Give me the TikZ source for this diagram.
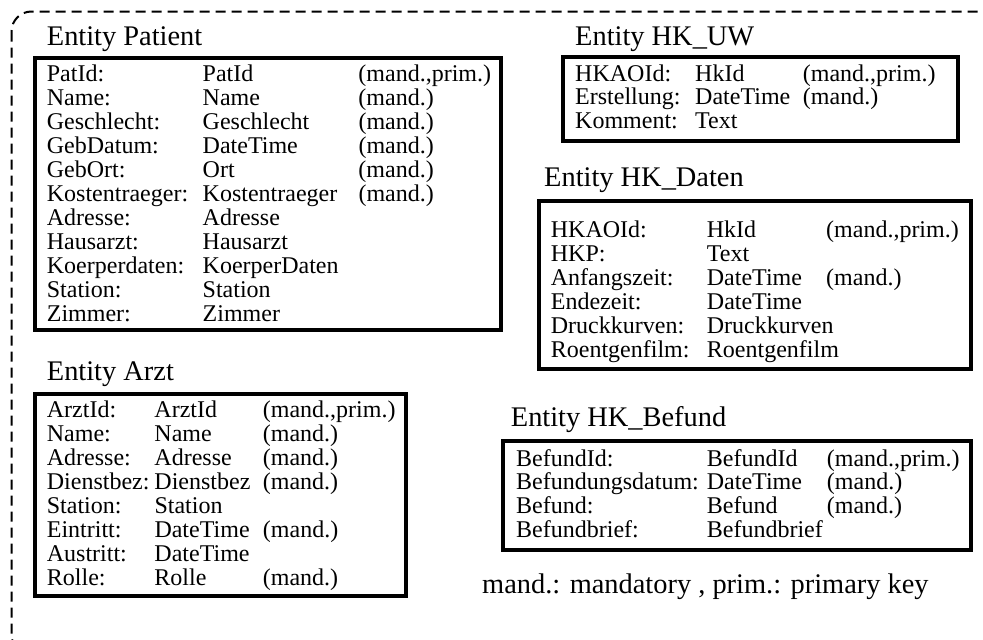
\documentclass[tikz,border=0pt]{standalone}
\usepackage{fontspec}
\setmainfont{Liberation Serif}
\usepackage{array}
\def\mandprim{(mand.,prim.)}
\def\mandonly{(mand.)}

\begin{document}
\begin{tikzpicture}[x=1pt,y=-1pt,
	entframe/.style={line width=4pt},
	enttitle/.style={anchor=base west,inner sep=0pt,font=\fontsize{28.4}{30}\selectfont},
	entrows/.style={anchor=base west,inner sep=0pt,font=\fontsize{24}{24}\selectfont}]
	\useasboundingbox (0,0) rectangle (983,640);
	% outer dashed border
	\draw[line width=2pt,dash pattern=on 10pt off 6pt,rounded corners=20pt] (11.5,11.5) rectangle (1002,655);
	% Patient
	\node[enttitle] (patTitle) at (46.7,45) {Entity Patient};
	\draw[entframe] (35.3,58) rectangle (501.3,330.3);
	\node[entrows] (patRows) at (46.7,81) {\begin{tabular}[t]{@{}p{155.8pt}@{}p{155.8pt}@{}l@{}}
		PatId: & PatId & \mandprim\\
		Name: & Name & \mandonly\\
		Geschlecht: & Geschlecht & \mandonly\\
		GebDatum: & DateTime & \mandonly\\
		GebOrt: & Ort & \mandonly\\
		Kostentraeger: & Kostentraeger & \mandonly\\
		Adresse: & Adresse & \\
		Hausarzt: & Hausarzt & \\
		Koerperdaten: & KoerperDaten & \\
		Station: & Station & \\
		Zimmer: & Zimmer &
	\end{tabular}};
	% HK_UW
	\node[enttitle] (uwTitle) at (575,45) {Entity HK\_UW};
	\draw[entframe] (562.7,57) rectangle (958,140.7);
	\node[entrows,font=\fontsize{24}{23.5}\selectfont] (uwRows) at (575,81) {\begin{tabular}[t]{@{}p{120pt}@{}p{107.7pt}@{}l@{}}
		HKAOId: & HkId & \mandprim\\
		Erstellung: & DateTime & \mandonly\\
		Komment: & Text &
	\end{tabular}};
	% HK_Daten
	\node[enttitle] (datTitle) at (544,186.7) {Entity HK\_Daten};
	\draw[entframe] (538.7,201.3) rectangle (970.7,368.7);
	\node[entrows,font=\fontsize{24}{23.9}\selectfont] (datRows) at (550.7,237.3) {\begin{tabular}[t]{@{}p{156pt}@{}p{119.3pt}@{}l@{}}
		HKAOId: & HkId & \mandprim\\
		HKP: & Text & \\
		Anfangszeit: & DateTime & \mandonly\\
		Endezeit: & DateTime & \\
		Druckkurven: & Druckkurven & \\
		Roentgenfilm: & Roentgenfilm &
	\end{tabular}};
	% Arzt
	\node[enttitle] (arztTitle) at (46.7,380.7) {Entity Arzt};
	\draw[entframe] (35.3,393.7) rectangle (406.3,596.3);
	\node[entrows] (arztRows) at (46.7,417.3) {\begin{tabular}[t]{@{}p{107.6pt}@{}p{108.4pt}@{}l@{}}
		ArztId: & ArztId & \mandprim\\
		Name: & Name & \mandonly\\
		Adresse: & Adresse & \mandonly\\
		Dienstbez: & Dienstbez & \mandonly\\
		Station: & Station & \\
		Eintritt: & DateTime & \mandonly\\
		Austritt: & DateTime & \\
		Rolle: & Rolle & \mandonly
	\end{tabular}};
	% HK_Befund
	\node[enttitle] (befTitle) at (510.7,426.7) {Entity HK\_Befund};
	\draw[entframe] (502.7,441.3) rectangle (970.7,549.7);
	\node[entrows,font=\fontsize{24}{23.5}\selectfont] (befRows) at (516,466) {\begin{tabular}[t]{@{}p{190.7pt}@{}p{120pt}@{}l@{}}
		BefundId: & BefundId & \mandprim\\
		Befundungsdatum: & DateTime & \mandonly\\
		Befund: & Befund & \mandonly\\
		Befundbrief: & Befundbrief &
	\end{tabular}};
	% legend
	\node[enttitle] (legend) at (482,593) {mand.: mandatory , prim.: primary key};
\end{tikzpicture}
\end{document}
